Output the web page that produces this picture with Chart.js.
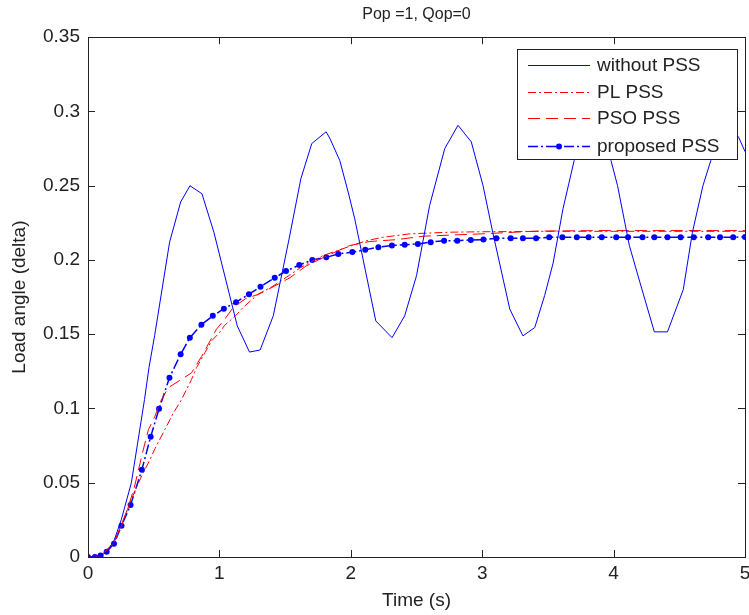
<!DOCTYPE html>
<html>
<head>
<meta charset="utf-8">
<script src="https://cdn.jsdelivr.net/npm/chart.js@4.4.1/dist/chart.umd.min.js"></script>
<style>
  html, body { margin: 0; padding: 0; background: #fff; }
  #loadChart { display: block; }
</style>
</head>
<body>
<canvas id="loadChart" width="749" height="615"></canvas>
<script>
// values (time in s, load angle)
const noPssT = [0, 0.1, 0.15, 0.2, 0.253, 0.33, 0.43, 0.464, 0.507, 0.621, 0.705, 0.776, 0.867, 0.958, 1.136, 1.229, 1.31, 1.41, 1.53, 1.62, 1.703, 1.812, 1.84, 1.916, 1.98, 2.03, 2.19, 2.314, 2.41, 2.5, 2.6, 2.715, 2.816, 2.917, 3.006, 3.08, 3.21, 3.31, 3.4, 3.475, 3.54, 3.615, 3.7, 3.8, 3.85, 3.92, 3.98, 4.03, 4.12, 4.2, 4.31, 4.41, 4.53, 4.6, 4.68, 4.74, 4.82, 4.9, 4.95, 5.0];
const noPssY = [0, 0.001, 0.004, 0.0115, 0.025, 0.05, 0.106, 0.1275, 0.149, 0.212, 0.239, 0.25, 0.2446, 0.2187, 0.1556, 0.138, 0.1394, 0.1624, 0.214, 0.2547, 0.2784, 0.2863, 0.282, 0.267, 0.2457, 0.2277, 0.159, 0.1477, 0.1624, 0.1894, 0.2367, 0.275, 0.2907, 0.2795, 0.2502, 0.2187, 0.1669, 0.1489, 0.1545, 0.176, 0.198, 0.2345, 0.267, 0.288, 0.29, 0.282, 0.267, 0.25, 0.2097, 0.185, 0.1516, 0.1516, 0.18, 0.2187, 0.25, 0.267, 0.28, 0.2865, 0.283, 0.273];

const plPssT = [0, 0.1, 0.2, 0.25, 0.3, 0.35, 0.4, 0.471, 0.51, 0.585, 0.65, 0.712, 0.788, 0.826, 0.89, 0.94, 1.0, 1.04, 1.118, 1.18, 1.295, 1.4, 1.47, 1.62, 1.79, 1.92, 2.02, 2.12, 2.245, 2.45, 2.75, 3.0, 3.5, 4.0, 5.0];
const plPssY = [0, 0.001, 0.01, 0.02, 0.032, 0.043, 0.053, 0.0655, 0.073, 0.0858, 0.097, 0.106, 0.1196, 0.1275, 0.1376, 0.1455, 0.151, 0.156, 0.162, 0.168, 0.177, 0.182, 0.186, 0.195, 0.203, 0.207, 0.21, 0.213, 0.2153, 0.2176, 0.2187, 0.219, 0.2193, 0.2193, 0.2193];

const psoPssT = [0, 0.1, 0.2, 0.25, 0.3, 0.35, 0.42, 0.46, 0.51, 0.548, 0.61, 0.7, 0.788, 0.864, 0.978, 1.04, 1.105, 1.2, 1.3, 1.4, 1.536, 1.66, 1.8, 1.99, 2.14, 2.35, 2.55, 3.0, 3.41, 3.89, 5.0];
const psoPssY = [0, 0.001, 0.01, 0.021, 0.032, 0.046, 0.072, 0.0858, 0.0948, 0.104, 0.114, 0.119, 0.124, 0.135, 0.1534, 0.16, 0.168, 0.174, 0.177, 0.1815, 0.188, 0.196, 0.202, 0.2097, 0.2124, 0.2137, 0.216, 0.2176, 0.2194, 0.2198, 0.2198];

const propT = [0, 0.053, 0.096, 0.142, 0.198, 0.255, 0.324, 0.41, 0.477, 0.541, 0.62, 0.705, 0.775, 0.863, 0.95, 1.034, 1.127, 1.225, 1.313, 1.421, 1.507, 1.608, 1.707, 1.813, 1.905, 2.012, 2.11, 2.21, 2.313, 2.41, 2.51, 2.608, 2.71, 2.81, 2.913, 3.01, 3.108, 3.217, 3.31, 3.41, 3.51, 3.61, 3.72, 3.81, 3.91, 4.02, 4.11, 4.22, 4.31, 4.41, 4.51, 4.61, 4.72, 4.81, 4.91, 5.0];
const propY = [0, 0, 0.001, 0.0036, 0.009, 0.021, 0.035, 0.0588, 0.081, 0.0998, 0.1207, 0.1365, 0.1477, 0.1564, 0.1624, 0.1672, 0.1716, 0.177, 0.182, 0.188, 0.1925, 0.1966, 0.2, 0.2018, 0.204, 0.2053, 0.2068, 0.2086, 0.2097, 0.2103, 0.2108, 0.212, 0.213, 0.213, 0.2135, 0.2137, 0.2147, 0.2147, 0.2147, 0.2147, 0.2153, 0.2153, 0.2153, 0.2153, 0.2153, 0.2153, 0.2153, 0.2153, 0.2153, 0.2153, 0.2153, 0.2153, 0.2153, 0.2153, 0.2153, 0.2155];

const seriesNames = ["without PSS", "PL PSS", "PSO PSS", "proposed PSS"];
const xTickLabels = ["0", "1", "2", "3", "4", "5"];
const yTickLabels = ["0", "0.05", "0.1", "0.15", "0.2", "0.25", "0.3", "0.35"];

const FONT = "'Liberation Sans', Arial, Helvetica, sans-serif";
const INK = "#222";
const TXT = 19;

const toPts = (t, y) => t.map((v, i) => ({ x: v, y: y[i] }));

// MATLAB-like box, inward ticks and an opaque legend inside the axes
const matlabFrame = {
    id: "matlabFrame",
    afterDatasetsDraw(chart) {
        const c = chart.ctx;
        const a = chart.chartArea;
        const xs = chart.scales.x, ys = chart.scales.y;
        c.save();
        c.strokeStyle = INK;
        c.lineWidth = 1;
        c.setLineDash([]);
        c.beginPath();
        xs.ticks.forEach(t => {
            const px = Math.round(xs.getPixelForValue(t.value)) + 0.5;
            c.moveTo(px, a.bottom); c.lineTo(px, a.bottom - 7);
            c.moveTo(px, a.top); c.lineTo(px, a.top + 7);
        });
        ys.ticks.forEach(t => {
            const py = Math.round(ys.getPixelForValue(t.value)) + 0.5;
            c.moveTo(a.left, py); c.lineTo(a.left + 7, py);
            c.moveTo(a.right, py); c.lineTo(a.right - 7, py);
        });
        c.stroke();
        c.strokeRect(Math.round(a.left) + 0.5, Math.round(a.top) + 0.5,
            Math.round(a.right - a.left), Math.round(a.bottom - a.top));

        // legend
        const lx = 517.5, ly = 49.5, lw = 220, lh = 110;
        c.fillStyle = "#fff";
        c.fillRect(lx, ly, lw, lh);
        c.strokeStyle = INK;
        c.strokeRect(lx, ly, lw, lh);
        c.font = TXT + "px " + FONT;
        c.textBaseline = "middle";
        c.textAlign = "left";
        const rowY = [65, 92, 118, 146];
        chart.data.datasets.forEach((ds, i) => {
            const y = rowY[i] + 0.5;
            c.strokeStyle = ds.borderColor;
            c.lineWidth = ds.borderWidth;
            c.setLineDash(ds.borderDash || []);
            c.beginPath();
            c.moveTo(528, y); c.lineTo(590, y);
            c.stroke();
            c.setLineDash([]);
            if (ds.pointRadius > 0) {
                c.fillStyle = ds.borderColor;
                c.beginPath();
                c.arc(559, y, ds.pointRadius, 0, Math.PI * 2);
                c.fill();
            }
            c.fillStyle = INK;
            c.fillText(ds.label, 597, rowY[i] + 1);
        });
        c.restore();
    }
};

const ctx = document.getElementById("loadChart").getContext("2d");

new Chart(ctx, {
    type: "line",
    data: {
        datasets: [
            {
                label: seriesNames[0],
                data: toPts(noPssT, noPssY),
                borderColor: "#0000ff",
                borderWidth: 1,
                pointRadius: 0,
                tension: 0
            },
            {
                label: seriesNames[1],
                data: toPts(plPssT, plPssY),
                borderColor: "#ff0000",
                borderWidth: 1,
                borderDash: [8, 3, 2, 3],
                pointRadius: 0,
                tension: 0
            },
            {
                label: seriesNames[2],
                data: toPts(psoPssT, psoPssY),
                borderColor: "#ff0000",
                borderWidth: 1,
                borderDash: [12, 6],
                pointRadius: 0,
                tension: 0
            },
            {
                label: seriesNames[3],
                data: toPts(propT, propY),
                borderColor: "#0000ff",
                backgroundColor: "#0000ff",
                borderWidth: 1.5,
                borderDash: [10, 3, 2, 3],
                pointRadius: 3,
                pointBorderWidth: 0,
                pointStyle: "circle",
                tension: 0
            }
        ]
    },
    options: {
        responsive: false,
        animation: false,
        layout: { padding: { left: 0, right: 3, top: 0, bottom: 0 } },
        scales: {
            x: {
                type: "linear",
                min: 0,
                max: 5,
                ticks: {
                    stepSize: 1,
                    padding: 5,
                    color: INK,
                    font: { family: FONT, size: TXT },
                    callback: (v, i) => xTickLabels[i]
                },
                grid: { display: false, drawTicks: false },
                border: { display: false },
                title: {
                    display: true,
                    text: "Time (s)",
                    color: INK,
                    font: { family: FONT, size: TXT },
                    padding: { top: 0, bottom: 3 }
                },
                afterFit(scale) {
                    scale.height = 58;
                    scale.paddingLeft = 0;
                    scale.paddingRight = 0;
                }
            },
            y: {
                type: "linear",
                min: 0,
                max: 0.35,
                ticks: {
                    stepSize: 0.05,
                    padding: 8,
                    color: INK,
                    font: { family: FONT, size: TXT },
                    callback: (v, i) => yTickLabels[i]
                },
                grid: { display: false, drawTicks: false },
                border: { display: false },
                title: {
                    display: true,
                    text: "Load angle (delta)",
                    color: INK,
                    font: { family: FONT, size: TXT },
                    padding: { top: 8, bottom: 0 }
                },
                afterFit(scale) {
                    scale.width = 88;
                    scale.paddingTop = 0;
                    scale.paddingBottom = 0;
                }
            }
        },
        plugins: {
            legend: { display: false },
            tooltip: { enabled: false },
            title: {
                display: true,
                fullSize: false,
                text: "Pop =1, Qop=0",
                color: INK,
                font: { family: FONT, size: 16, weight: "normal" },
                padding: { top: 5, bottom: 13 }
            }
        }
    },
    plugins: [matlabFrame]
});
</script>
</body>
</html>
